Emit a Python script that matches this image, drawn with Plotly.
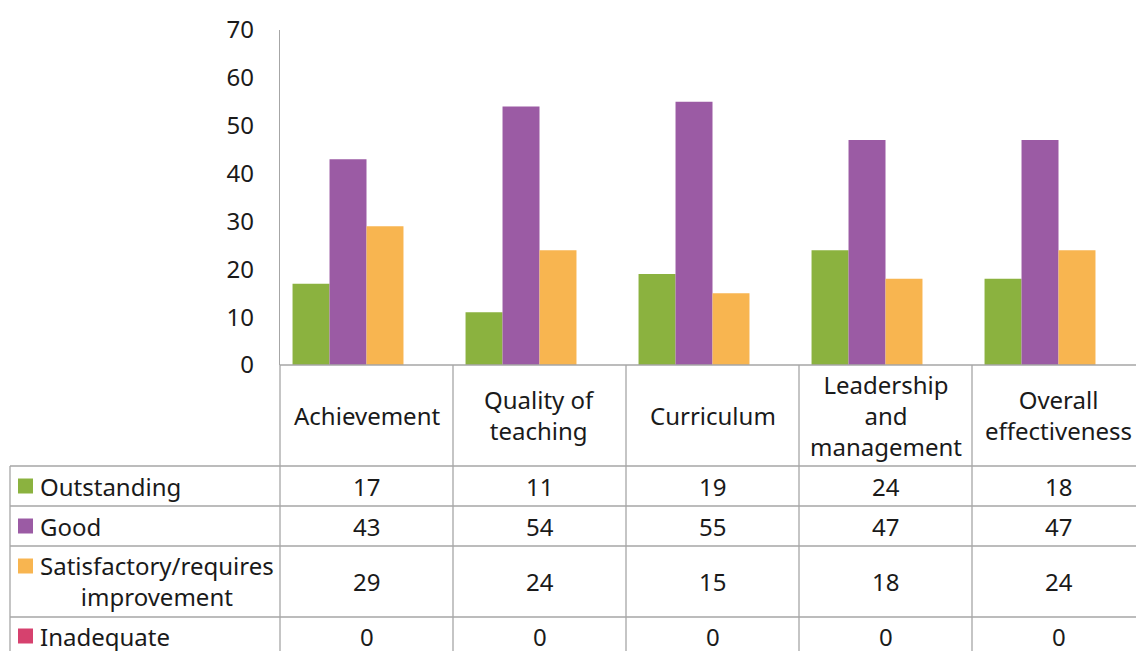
import plotly.graph_objects as go

categories = ["Achievement", "Quality of<br>teaching", "Curriculum", "Leadership<br>and<br>management", "Overall<br>effectiveness"]
series_names = ["Outstanding", "Good", "Satisfactory/requires<br>improvement", "Inadequate"]
outstanding = [17, 11, 19, 24, 18]
good = [43, 54, 55, 47, 47]
satisfactory = [29, 24, 15, 18, 24]
inadequate = [0, 0, 0, 0, 0]
series_values = [outstanding, good, satisfactory, inadequate]
colors = ["#8BB23F", "#9B5BA4", "#F8B550", "#D6416E"]
y_ticks = [0, 10, 20, 30, 40, 50, 60, 70]

W, H = 1136, 651
L, T, B = 280, 30, 365  # plot area bounds in pixels
PW = W - L
PH = B - T
CAT_W = 173.0

def px(x):
    return (x - L) / PW

def py(y):
    return (B - y) / PH

FONT = "Noto Sans, DejaVu Sans, sans-serif"
TXT = "#1a1a1a"
LINE = "#a6a6a6"
FS = 24

fig = go.Figure()
xs = list(range(len(categories)))
for name, vals, col in zip(series_names, series_values, colors):
    fig.add_trace(go.Bar(x=xs, y=vals, name=name, marker=dict(color=col, line=dict(width=0)),
                         showlegend=False, hoverinfo="skip"))

x_max = -0.5 + PW / CAT_W
fig.update_layout(
    width=W, height=H,
    margin=dict(l=L, r=0, t=T, b=H - B, pad=0),
    paper_bgcolor="white", plot_bgcolor="white",
    barmode="group", bargap=0.145, bargroupgap=0,
    font=dict(family=FONT, size=FS, color=TXT),
    xaxis=dict(range=[-0.5, x_max], showticklabels=False, showgrid=False, zeroline=False,
               showline=False, ticks=""),
    yaxis=dict(range=[0, 70], tickvals=y_ticks, showgrid=False, zeroline=False,
               showline=True, linecolor=LINE, linewidth=1.3, ticks="",
               ticklabelstandoff=20, tickfont=dict(family=FONT, size=FS, color=TXT)),
)

shapes = []
bottom = py(H + 5)
shapes.append(dict(type="line", xref="paper", yref="paper", x0=0, x1=1, y0=0, y1=0,
                   line=dict(color=LINE, width=1.3)))
shapes.append(dict(type="line", xref="paper", yref="paper", x0=0, x1=0, y0=0, y1=bottom,
                   line=dict(color=LINE, width=1.3)))
for i in range(len(categories) - 1):
    shapes.append(dict(type="line", xref="x", yref="paper", x0=i + 0.5, x1=i + 0.5, y0=0, y1=bottom,
                       line=dict(color=LINE, width=1.3)))
shapes.append(dict(type="line", xref="paper", yref="paper", x0=px(10), x1=px(10), y0=py(466), y1=bottom,
                   line=dict(color=LINE, width=1.3)))
for yy in [466, 506, 546, 617]:
    shapes.append(dict(type="line", xref="paper", yref="paper", x0=px(10), x1=1.0, y0=py(yy), y1=py(yy),
                       line=dict(color=LINE, width=1.3)))

row_centers = [486, 526, 581, 636]
key_centers = [486, 526, 566, 636]
annotations = []
for i, cat in enumerate(categories):
    annotations.append(dict(x=i, y=py(415), xref="x", yref="paper", text=cat, showarrow=False,
                            xanchor="center", yanchor="middle", align="center",
                            font=dict(family=FONT, size=FS, color=TXT)))
for r, (name, vals, col) in enumerate(zip(series_names, series_values, colors)):
    kc = key_centers[r]
    shapes.append(dict(type="rect", xref="paper", yref="paper", x0=px(18), x1=px(33),
                       y0=py(kc + 7.5), y1=py(kc - 7.5), fillcolor=col, line=dict(width=0)))
    annotations.append(dict(x=px(38), y=py(row_centers[r]), xref="paper", yref="paper", text=name,
                            showarrow=False, xanchor="left", yanchor="middle", align="center",
                            font=dict(family=FONT, size=FS, color=TXT)))
    for i, v in enumerate(vals):
        annotations.append(dict(x=i, y=py(row_centers[r]), xref="x", yref="paper", text=str(v),
                                showarrow=False, xanchor="center", yanchor="middle",
                                font=dict(family=FONT, size=FS, color=TXT)))

fig.update_layout(shapes=shapes, annotations=annotations)
fig.write_html(
    "out.html",
    config={"displayModeBar": False},
    post_script="document.body.style.margin='0';document.body.style.overflow='hidden';",
)
